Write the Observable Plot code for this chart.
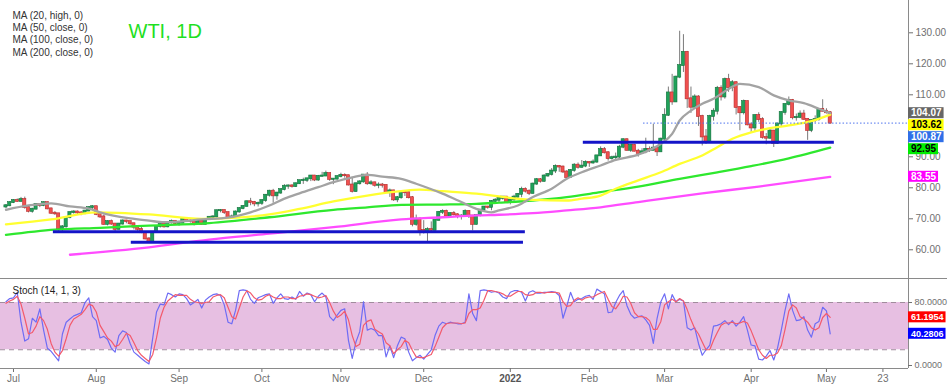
<!DOCTYPE html>
<html><head><meta charset="utf-8">
<script src="https://cdn.jsdelivr.net/npm/d3@7"></script>
<script src="https://cdn.jsdelivr.net/npm/@observablehq/plot@0.6"></script>
<style>
html,body{margin:0;padding:0;background:#fff;}
#chart{width:950px;height:385px;overflow:hidden;background:#fff;}
#chart svg{display:block;}
</style></head><body><div id="chart"></div>
<script>
// ---------- DATA (trading-day index 0 = 29 Jun 2021 ... 219 = 3 May 2022) ----------
const opens = [73.8,74.2,75.2,75.9,75.6,76.2,73.6,72.4,73.1,74.6,74.3,75.2,73.2,71.8,71.6,66.8,67.4,70.4,72.0,72.2,
71.9,71.7,72.5,73.6,73.9,71.4,70.6,68.2,69.1,68.3,66.6,68.3,69.3,69.1,68.4,67.3,66.6,65.5,63.5,62.7,
65.7,67.5,68.3,67.4,68.7,69.2,68.5,68.6,70.0,69.3,69.1,68.4,69.3,68.2,69.7,70.5,70.6,72.6,72.7,72.0,
70.3,70.6,72.2,73.3,74.0,75.5,75.3,74.8,75.0,75.9,77.6,78.9,77.4,78.3,79.4,80.5,80.6,80.4,81.3,82.3,
82.4,82.9,83.8,82.5,83.7,83.8,84.6,82.7,82.8,83.6,84.0,83.9,80.9,78.8,81.3,81.9,84.1,81.3,81.6,80.8,
80.9,80.8,78.4,79.0,76.1,76.8,78.5,78.4,76.8,68.2,69.9,66.2,65.6,66.5,66.3,69.5,72.1,72.4,70.9,71.7,
71.3,70.7,70.9,72.4,70.9,68.2,71.1,72.8,73.8,73.7,75.6,76.0,76.6,77.0,75.2,76.1,77.0,77.9,79.5,78.9,
78.2,81.2,82.6,82.1,83.8,84.3,85.4,86.9,86.7,85.1,83.3,85.6,87.3,86.6,87.0,88.2,88.0,88.3,90.3,92.3,
91.3,89.4,89.7,89.9,93.1,95.5,92.1,93.7,91.8,91.1,91.6,92.4,92.1,92.8,91.6,95.7,103.4,110.6,107.7,115.7,
119.4,123.7,108.7,106.0,109.3,103.0,96.4,95.0,103.0,104.7,112.1,109.3,114.9,112.3,113.9,105.9,104.2,107.8,100.3,99.3,
103.3,102.0,96.2,96.0,98.3,94.3,100.6,104.3,106.9,108.2,102.6,102.7,103.8,102.1,98.5,101.7,102.0,105.3,104.7,104.2];
const highs = [74.6,75.5,76.2,76.4,76.9,77.0,73.9,73.4,74.9,74.8,75.5,75.4,73.4,72.3,71.7,67.8,70.7,72.2,72.6,72.5,
72.3,72.7,73.9,74.2,74.0,71.9,71.2,69.4,69.6,68.4,68.5,69.6,69.5,69.2,68.5,67.6,67.6,65.7,63.9,65.9,
67.7,68.5,68.5,68.9,69.6,69.4,69.2,70.3,70.3,69.6,69.3,69.5,69.4,69.9,70.7,71.0,72.8,73.0,72.8,72.1,
71.2,72.5,73.6,74.2,75.7,76.6,75.6,75.4,76.0,77.8,79.2,79.5,78.5,79.6,81.0,80.9,81.0,81.5,82.4,83.1,
83.0,83.9,84.0,84.0,85.0,85.4,84.7,83.0,83.9,84.7,84.5,84.0,83.1,81.5,82.3,84.2,84.9,82.3,81.8,81.6,
81.4,80.9,79.6,79.2,77.2,78.6,78.7,78.6,77.2,71.2,70.3,69.4,67.1,69.0,69.6,72.3,72.9,72.8,71.9,72.3,
71.6,71.3,72.9,72.5,71.0,71.4,72.9,73.9,74.0,75.9,76.5,77.0,77.1,77.0,76.6,77.6,78.1,80.2,80.0,79.3,
81.5,83.0,83.0,84.2,84.6,86.2,87.4,87.2,87.0,85.5,85.9,87.8,88.0,88.8,88.7,88.4,89.0,90.4,93.2,93.0,
91.6,90.2,91.2,93.7,95.8,95.8,93.9,94.0,92.4,92.6,96.0,93.2,100.5,93.0,96.0,105.5,112.5,116.6,116.0,130.5,
129.4,124.0,112.5,110.0,109.7,103.4,98.8,103.4,105.5,112.7,112.9,115.4,116.6,114.6,114.2,106.2,108.3,108.0,101.0,103.5,
104.2,102.6,97.5,98.8,98.5,100.8,104.5,107.0,109.3,108.5,103.8,104.8,105.0,102.2,102.0,103.2,105.5,108.4,105.5,104.6];
const lows = [73.2,73.9,74.9,75.3,75.4,73.1,71.9,71.8,72.9,73.6,73.9,72.9,71.4,71.1,65.9,65.8,67.0,70.0,71.5,71.2,
71.0,71.3,72.3,73.0,71.0,70.1,67.9,67.7,67.9,65.9,66.4,68.0,68.4,67.9,66.4,65.9,65.2,63.2,62.3,62.5,
65.5,67.0,67.0,67.1,68.3,68.0,67.6,68.4,68.9,68.6,67.7,68.1,67.9,68.1,69.5,70.0,70.3,71.9,71.4,69.9,
70.1,70.5,71.8,72.9,73.8,74.2,73.9,73.8,74.3,75.3,77.0,75.0,76.0,77.9,79.0,79.5,79.9,80.1,81.1,81.1,
81.7,82.0,82.0,82.1,83.5,83.6,82.1,81.0,82.5,83.2,83.1,80.6,78.3,78.5,80.9,81.5,80.8,80.8,80.2,79.7,
79.9,78.3,76.9,75.6,75.2,76.3,77.2,76.4,67.4,67.6,64.4,65.1,62.4,65.7,66.1,69.3,71.4,70.4,70.1,70.9,
70.0,69.6,70.8,70.1,66.1,68.0,70.6,72.4,73.1,72.6,75.2,75.2,76.0,75.0,74.5,75.7,76.7,76.8,78.3,77.5,
78.0,80.8,81.5,81.8,83.4,83.8,84.6,85.0,84.6,82.6,83.0,85.0,86.0,86.4,86.5,86.6,87.6,87.9,90.1,90.9,
88.6,88.9,88.5,88.9,92.6,91.8,91.4,91.6,89.9,90.8,91.0,91.4,92.0,90.1,91.4,95.2,103.0,106.6,107.5,115.2,
117.2,105.6,104.0,105.3,99.8,93.5,94.0,94.8,101.5,103.5,108.0,108.6,110.8,111.0,103.5,98.4,103.5,100.0,97.8,97.9,
101.1,95.7,93.9,95.6,93.0,94.0,99.5,103.4,106.4,101.9,101.5,102.3,101.8,95.3,97.8,100.9,101.5,104.4,103.8,100.5];
const closes = [74.2,75.2,75.9,75.6,76.2,73.6,72.4,73.1,74.6,74.3,75.2,73.2,71.8,71.6,66.8,67.4,70.4,72.0,72.2,71.9,
71.7,72.5,73.6,73.9,71.4,70.6,68.2,69.1,68.3,66.6,68.3,69.3,69.1,68.4,67.3,66.6,65.5,63.5,62.7,65.7,
67.5,68.3,67.4,68.7,69.2,68.5,68.6,70.0,69.3,69.1,68.4,69.3,68.2,69.7,70.5,70.6,72.6,72.7,72.0,70.3,
70.6,72.2,73.3,74.0,75.5,75.3,74.8,75.0,75.9,77.6,78.9,77.4,78.3,79.4,80.5,80.6,80.4,81.3,82.3,82.4,
82.9,83.8,82.5,83.7,83.8,84.6,82.7,82.8,83.6,84.0,83.9,80.9,78.8,81.3,81.9,84.1,81.3,81.6,80.8,80.9,
80.8,78.4,79.0,76.1,76.8,78.5,78.4,76.8,68.2,69.9,66.2,65.6,66.5,66.3,69.5,72.1,72.4,70.9,71.7,71.3,
70.7,70.9,72.4,70.9,68.2,71.1,72.8,73.8,73.7,75.6,76.0,76.6,77.0,75.2,76.1,77.0,77.9,79.5,78.9,78.2,
81.2,82.6,82.1,83.8,84.3,85.4,86.9,86.7,85.1,83.3,85.6,87.3,86.6,87.0,88.2,88.0,88.3,90.3,92.3,91.3,
89.4,89.7,89.9,93.1,95.5,92.1,93.7,91.8,91.1,91.6,92.4,92.1,92.8,91.6,95.7,103.4,110.6,107.7,115.7,119.4,
123.7,108.7,106.0,109.3,103.0,96.4,95.0,103.0,104.7,112.1,109.3,114.9,112.3,113.9,105.9,104.2,107.8,100.3,99.3,103.3,
102.0,96.2,96.0,98.3,94.3,100.6,104.3,106.9,108.2,102.6,102.7,103.8,102.1,98.5,101.7,102.0,105.3,104.7,104.2,100.87];

// moving averages: [trading-day index, value]
const ma20 = [[0,72.9],[6,74.3],[12,75.0],[17,74.0],[22,73.3],[25,72.1],[33,70.1],[38,69.4],[42,68.9],[46,69.1],[52,69.8],[59,70.4],[65,72.1],[70,74.3],[74,76.5],[78,78.2],[83,80.2],[87,81.8],[92,83.4],[96,84.2],[100,83.6],[105,82.9],[109,81.3],[116,78.1],[121,75.4],[125,73.2],[129,72.1],[131,72.7],[136,74.3],[140,77.0],[145,79.7],[149,82.9],[153,85.0],[158,87.2],[162,89.0],[168,90.7],[174,94.2],[177,97.4],[179,101.7],[182,104.9],[185,107.1],[188,108.7],[192,111.9],[195,113.5],[200,112.5],[204,109.8],[208,108.2],[212,107.3],[216,105.5],[219,104.07]];
const ma50 = [[0,68.2],[12,69.8],[24,72.1],[38,71.4],[52,70.0],[60,70.3],[70,71.4],[78,73.2],[87,75.6],[96,77.5],[105,78.9],[110,79.4],[116,78.9],[125,78.1],[131,77.2],[140,76.1],[149,75.9],[153,76.5],[158,77.5],[162,79.7],[168,82.4],[174,85.0],[179,87.7],[185,90.4],[189,93.1],[193,95.8],[198,97.9],[202,99.0],[208,100.1],[214,101.5],[219,103.62]];
const ma100 = [[0,64.8],[13,66.5],[25,67.1],[38,67.8],[54,68.6],[70,70.5],[87,72.9],[96,73.7],[105,74.5],[116,74.6],[125,74.8],[131,75.2],[140,75.9],[149,77.0],[158,78.6],[168,80.4],[179,82.9],[189,85.0],[198,87.0],[208,89.5],[219,92.95]];
const ma200 = [[17,58.4],[38,60.8],[54,63.3],[70,65.2],[87,67.3],[105,69.8],[116,70.5],[125,71.1],[131,71.3],[140,71.8],[149,72.7],[158,73.7],[168,75.4],[185,78.2],[200,80.4],[219,83.55]];

// stochastic (14,1,3)
const stochK = [81,85,86,93,55,31,34,60,55,72,45,22,18,12,6,40,55,59,63,65,
67,80,86,62,57,35,37,33,22,17,38,44,42,28,17,13,9,5,2,35,
68,78,77,92,90,87,91,90,85,77,80,84,73,83,87,90,91,89,77,55,
53,70,95,96,95,84,79,86,88,90,91,79,86,91,85,84,87,84,94,88,
92,90,81,88,92,87,62,57,64,70,72,32,9,30,43,81,45,47,45,38,
38,11,25,10,25,36,34,17,6,10,13,8,14,20,38,50,55,53,55,54,
53,53,55,91,66,57,95,96,95,93,94,92,87,85,93,95,95,93,82,93,
95,92,92,93,93,94,93,89,60,75,93,81,84,85,88,89,84,97,94,91,
67,68,80,89,95,76,65,60,62,63,58,51,28,60,81,91,72,90,81,84,
82,48,45,48,28,13,20,26,50,51,53,57,52,57,50,55,62,45,26,25,
8,7,12,19,7,22,45,70,91,70,57,58,62,45,36,53,56,74,69.3,40.2806];
const stochD = [79,82,84,88,78,60,40,42,50,62,57,46,28,17,12,19,34,51,59,62,
65,71,78,76,68,51,43,35,31,24,26,33,41,38,29,19,13,9,5,14,
35,60,74,82,86,90,89,89,89,84,81,80,79,80,81,87,89,90,86,74,
62,59,73,87,95,92,86,83,84,88,90,87,85,85,87,87,85,85,88,89,
91,90,88,86,87,89,80,69,61,64,69,58,38,24,27,51,56,58,46,43,
40,29,25,15,20,24,32,29,19,11,10,10,12,14,24,36,48,53,54,54,
54,53,54,66,71,71,73,83,95,95,94,93,91,88,88,91,94,94,90,89,
90,93,93,92,93,93,93,92,81,75,76,83,86,83,86,87,87,90,92,94,
84,75,72,79,88,87,79,67,62,62,61,57,46,46,56,77,81,84,81,85,
82,71,58,47,40,30,20,20,32,42,51,54,54,55,53,54,56,54,44,32,
20,13,9,13,13,16,25,46,69,77,73,62,59,55,48,45,48,61,66,61.1954];

// horizontal support lines: level, from day, to day
const supportLevels = [65.8, 62.4, 94.7];
const supportFrom   = [12.6, 33.3, 153.4];
const supportTo     = [138.0, 137.5, 220.1];
const lastPriceFrom = 169.4;

// right-hand value tags
const tagValues = [104.07, 103.62, 100.87, 92.95, 83.55];
const tagFills  = ["#666666", "#ffff00", "#2f6fe8", "#00ee00", "#ff00ff"];
const tagInk    = ["#ffffff", "#000000", "#ffffff", "#000000", "#ffffff"];
const stochTagValues = [61.1954, 40.2806];
const stochTagFills  = ["#ff0000", "#0000ff"];

const priceTicks = [60, 70, 80, 90, 110, 120, 130];
const stochTicks = [0, 80];
const monthTickDays   = [2, 24, 46, 68, 89, 111, 155, 175, 198, 218, 233];
const monthTickLabels = ["Jul","Aug","Sep","Oct","Nov","Dec","Feb","Mar","Apr","May","23"];
const yearTickDay = 134, yearTickLabel = "2022";
const legendLines = ["MA (20, high, 0)", "MA (50, close, 0)", "MA (100, close, 0)", "MA (200, close, 0)"];
const titleText = "WTI, 1D";
const stochTitle = "Stoch (14, 1, 3)";

// ---------- CHART ----------
const FONT = '"Liberation Sans", Arial, Helvetica, sans-serif';
const W = 950, PLOT_RIGHT = 908;
const X_DOMAIN = [-1.45, 239.8];
const idxPerPx = (X_DOMAIN[1] - X_DOMAIN[0]) / PLOT_RIGHT;
const candles = opens.map((o, i) => ({i, open: o, high: highs[i], low: lows[i], close: closes[i]}));
const up = d => d.close >= d.open;

function textWidth(s, fs) { let w = 0; for (const c of s) w += (c === "." ? 2.78 : 5.56); return w * fs / 10; }

function tagMarks(values, fills, inks, fmt, yScale, fs) {
  const marks = [];
  let prev = -Infinity;
  values.forEach((v, k) => {
    const py = yScale(v);
    const pos = Math.max(py, prev + 12);
    prev = pos;
    const o = pos - py;
    const label = fmt(v);
    const w = textWidth(label, fs) + 5;
    marks.push(Plot.rect([v], {x1: X_DOMAIN[1], x2: X_DOMAIN[1] + w * idxPerPx, y1: d => d, y2: d => d,
      insetTop: o - 5.5, insetBottom: -(o + 5.5), fill: fills[k]}));
    marks.push(Plot.text([v], {x: X_DOMAIN[1], y: d => d, dx: 2.5, dy: o, text: () => label, textAnchor: "start",
      fill: inks[k], fontSize: fs, fontWeight: "bold"}));
  });
  return marks;
}

const Y_MAIN = [50.74, 140.42], H_MAIN = 278;
const yMain = d3.scaleLinear(Y_MAIN, [H_MAIN, 0]);
const lineOpts = (color) => ({x: d => d[0], y: d => d[1], stroke: color, strokeWidth: 2.3, curve: "monotone-x"});

const main = Plot.plot({
  width: W, height: H_MAIN, marginTop: 0, marginBottom: 0, marginLeft: 0, marginRight: W - PLOT_RIGHT,
  style: {fontFamily: FONT, fontSize: "10px", color: "#707070", background: "#fff", overflow: "visible"},
  x: {domain: X_DOMAIN, axis: null},
  y: {domain: Y_MAIN, axis: "right", ticks: priceTicks, tickFormat: d => d.toFixed(2), tickSize: 4, tickPadding: 3, label: null},
  marks: [
    Plot.ruleX([X_DOMAIN[1]], {stroke: "#8a8a8a"}),
    Plot.ruleX(candles, {x: "i", y1: "low", y2: "high", stroke: "#7a7a7a", strokeWidth: 1}),
    Plot.rect(candles, {x1: d => d.i - 0.42, x2: d => d.i + 0.42, y1: "open", y2: "close",
      fill: d => up(d) ? "#20a25a" : "#f0504f", stroke: d => up(d) ? "#12703b" : "#b52a2a", strokeWidth: 0.6,
      insetTop: -0.5, insetBottom: -0.5}),
    Plot.line(ma200, lineOpts("#ff4cff")),
    Plot.line(ma100, lineOpts("#2ee82e")),
    Plot.line(ma50, lineOpts("#ffff30")),
    Plot.line(ma20, lineOpts("#a3a3a3")),
    Plot.ruleY(supportLevels, {y: d => d, x1: (d, k) => supportFrom[k], x2: (d, k) => supportTo[k], stroke: "#1414c8", strokeWidth: 3}),
    Plot.ruleY([closes[closes.length - 1]], {x1: lastPriceFrom, x2: X_DOMAIN[1], stroke: "#4d73ee", strokeWidth: 1, strokeDasharray: "1.5,2"}),
    Plot.text([titleText], {frameAnchor: "top-left", dx: 128, dy: 31.5, lineAnchor: "middle", textAnchor: "start", fontSize: 20, fill: "#1fe01f"}),
    Plot.text([legendLines.join("\n")], {frameAnchor: "top-left", dx: 12, dy: 9.5, lineAnchor: "top", textAnchor: "start", fontSize: 10, lineHeight: 1.23, fill: "#333"}),
    ...tagMarks(tagValues, tagFills, tagInk, v => v.toFixed(2), yMain, 10)
  ]
});

const Y_ST = [-3.8, 110.5], H_ST = 107, MB_ST = 17;
const yStoch = d3.scaleLinear(Y_ST, [H_ST - MB_ST, 0]);
const kData = stochK.map((v, i) => [i, v]);
const dData = stochD.map((v, i) => [i, v]);
const stoch = Plot.plot({
  width: W, height: H_ST, marginTop: 0, marginBottom: MB_ST, marginLeft: 0, marginRight: W - PLOT_RIGHT,
  style: {fontFamily: FONT, fontSize: "10px", color: "#707070", background: "#fff", overflow: "visible"},
  x: {domain: X_DOMAIN, axis: "bottom", ticks: monthTickDays, tickFormat: d => monthTickLabels[monthTickDays.indexOf(d)], tickSize: 4, tickPadding: 2, label: null},
  y: {type: "linear", domain: Y_ST, axis: null},
  marks: [
    Plot.rect([0], {x1: X_DOMAIN[0], x2: X_DOMAIN[1], y1: 20, y2: 80, fill: "#e7bfe2"}),
    Plot.ruleY([20, 80], {x1: X_DOMAIN[0], x2: X_DOMAIN[1], stroke: "#a08c9c", strokeDasharray: "5,4", strokeWidth: 1.2}),
    Plot.line(kData, {x: d => d[0], y: d => d[1], stroke: "#6e6cf5", strokeWidth: 1.2}),
    Plot.line(dData, {x: d => d[0], y: d => d[1], stroke: "#f35a6c", strokeWidth: 1.2}),
    Plot.ruleY([Y_ST[1]], {x1: X_DOMAIN[0], x2: X_DOMAIN[1] + 39 * idxPerPx, stroke: "#8a8a8a", strokeWidth: 1.2}),
    Plot.ruleY([Y_ST[0]], {x1: X_DOMAIN[0], x2: X_DOMAIN[1], stroke: "#8a8a8a"}),
    Plot.ruleX([X_DOMAIN[1]], {y1: Y_ST[0], y2: Y_ST[1], stroke: "#8a8a8a"}),
    Plot.ruleY(stochTicks, {y: d => d, x1: X_DOMAIN[1], x2: X_DOMAIN[1] + 4 * idxPerPx, stroke: "#707070"}),
    Plot.text(stochTicks, {x: X_DOMAIN[1], y: d => d, dx: 6, text: d => d.toFixed(4), textAnchor: "start", fontSize: 9, fill: "#707070"}),
    Plot.ruleX([yearTickDay], {x: d => d, y1: Y_ST[0], y2: Y_ST[0], insetBottom: -4, stroke: "#707070"}),
    Plot.text([yearTickDay], {x: d => d, frameAnchor: "bottom", dy: 10, lineAnchor: "middle", text: () => yearTickLabel, fontWeight: "bold", fill: "#555", fontSize: 10}),
    Plot.text([stochTitle], {frameAnchor: "top-left", dx: 12, dy: 12.7, lineAnchor: "middle", textAnchor: "start", fontSize: 10, fill: "#222"}),
    ...tagMarks(stochTagValues, stochTagFills, ["#fff", "#fff"], v => v.toFixed(4), yStoch, 9)
  ]
});

const root = document.getElementById("chart");
root.appendChild(main);
root.appendChild(stoch);
</script></body></html>
